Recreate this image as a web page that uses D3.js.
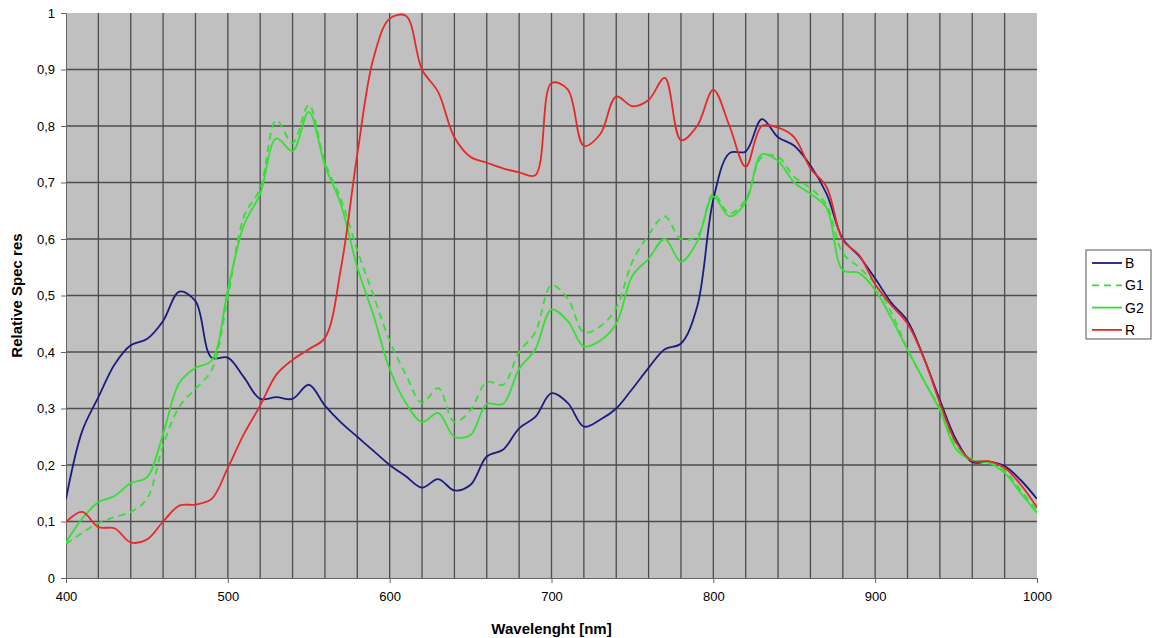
<!DOCTYPE html>
<html>
<head>
<meta charset="utf-8">
<script src="https://cdn.jsdelivr.net/npm/d3@7"></script>
<style>
  body { margin: 0; background: #fff; }
  text { font-family: "Liberation Sans", Arial, sans-serif; }
  .tick text { font-size: 13px; fill: #000; }
  .axisLabel { font-size: 15px; font-weight: bold; }
</style>
</head>
<body>
<div id="here"></div>
<script>
// spectral response, one value per 10 nm
const wavelengths = d3.range(400, 1001, 10);

const seriesB = [0.14, 0.26, 0.32, 0.378, 0.412, 0.423, 0.455, 0.507, 0.49, 0.39,
  0.39, 0.355, 0.317, 0.32, 0.317, 0.342, 0.305, 0.275, 0.25, 0.225,
  0.2, 0.18, 0.16, 0.175, 0.155, 0.165, 0.215, 0.227, 0.265, 0.285,
  0.327, 0.31, 0.268, 0.28, 0.3, 0.335, 0.372, 0.405, 0.415, 0.48,
  0.67, 0.752, 0.755, 0.812, 0.78, 0.765, 0.73, 0.68, 0.6, 0.57,
  0.53, 0.487, 0.455, 0.39, 0.315, 0.245, 0.205, 0.206, 0.198, 0.173, 0.14];

const seriesG1 = [0.06, 0.08, 0.097, 0.108, 0.117, 0.14, 0.235, 0.303, 0.335, 0.368,
  0.497, 0.64, 0.69, 0.81, 0.77, 0.837, 0.735, 0.67, 0.58, 0.5,
  0.42, 0.36, 0.31, 0.336, 0.276, 0.297, 0.347, 0.342, 0.4, 0.435,
  0.518, 0.495, 0.435, 0.445, 0.478, 0.56, 0.607, 0.64, 0.6, 0.605,
  0.68, 0.645, 0.67, 0.745, 0.745, 0.71, 0.69, 0.66, 0.575, 0.55,
  0.52, 0.47, 0.405, 0.35, 0.3, 0.235, 0.21, 0.205, 0.19, 0.155, 0.12];

const seriesG2 = [0.063, 0.105, 0.134, 0.145, 0.168, 0.178, 0.255, 0.345, 0.372, 0.385,
  0.51, 0.625, 0.68, 0.778, 0.756, 0.825, 0.73, 0.66, 0.55, 0.465,
  0.37, 0.31, 0.276, 0.292, 0.25, 0.253, 0.308, 0.308, 0.37, 0.405,
  0.475, 0.455, 0.41, 0.42, 0.45, 0.535, 0.565, 0.6, 0.56, 0.595,
  0.675, 0.64, 0.665, 0.75, 0.738, 0.7, 0.68, 0.655, 0.545, 0.54,
  0.51, 0.46, 0.404, 0.35, 0.297, 0.228, 0.208, 0.204, 0.186, 0.15, 0.115];

const seriesR = [0.099, 0.117, 0.09, 0.088, 0.063, 0.068, 0.1, 0.128, 0.13, 0.14,
  0.195, 0.255, 0.305, 0.36, 0.386, 0.405, 0.425, 0.55, 0.75, 0.92,
  0.99, 0.995, 0.9, 0.86, 0.78, 0.745, 0.735, 0.725, 0.718, 0.713,
  0.876, 0.865, 0.765, 0.785, 0.852, 0.835, 0.846, 0.885, 0.775, 0.8,
  0.864, 0.8, 0.728, 0.8, 0.797, 0.78, 0.725, 0.692, 0.598, 0.572,
  0.52, 0.483, 0.45, 0.39, 0.31, 0.24, 0.207, 0.207, 0.195, 0.165, 0.125];

const seriesNames = ["B", "G1", "G2", "R"];
const seriesValues = [seriesB, seriesG1, seriesG2, seriesR];
const seriesColors = ["#1c1c80", "#33e033", "#33e033", "#e62828"];
const seriesDash = [null, "7,5", null, null];

const xTicks = [400, 500, 600, 700, 800, 900, 1000];
const yTicks = [0, 0.1, 0.2, 0.3, 0.4, 0.5, 0.6, 0.7, 0.8, 0.9, 1];

const width = 1156;
const height = 638;
const margin = { top: 13, right: 119, bottom: 60, left: 66 };

const svg = d3.select("#here")
  .append("svg")
  .attr("width", width)
  .attr("height", height);

const xScale = d3.scaleLinear()
  .domain([400, 1000])
  .range([margin.left, width - margin.right]);

const yScale = d3.scaleLinear()
  .domain([0, 1])
  .range([height - margin.bottom, margin.top]);

// plot area
svg.append("rect")
  .attr("x", xScale(400))
  .attr("y", yScale(1))
  .attr("width", xScale(1000) - xScale(400))
  .attr("height", yScale(0) - yScale(1))
  .attr("fill", "#c0c0c0");

// grid
svg.append("g")
  .selectAll("line")
  .data(d3.range(420, 1000, 20))
  .enter()
  .append("line")
  .attr("x1", d => xScale(d))
  .attr("x2", d => xScale(d))
  .attr("y1", yScale(0))
  .attr("y2", yScale(1))
  .attr("stroke", "#4d4d4d")
  .attr("stroke-width", 1.3);

svg.append("g")
  .selectAll("line")
  .data(d3.range(1, 10).map(d => d / 10))
  .enter()
  .append("line")
  .attr("x1", xScale(400))
  .attr("x2", xScale(1000))
  .attr("y1", d => yScale(d))
  .attr("y2", d => yScale(d))
  .attr("stroke", "#4d4d4d")
  .attr("stroke-width", 1.3);

// axes
const fmt = d => String(d).replace(".", ",");

const xAxis = svg.append("g")
  .attr("transform", `translate(0, ${yScale(0)})`)
  .call(d3.axisBottom(xScale).tickValues(xTicks).tickFormat(d => String(d)).tickSize(5).tickPadding(9));

const yAxis = svg.append("g")
  .attr("transform", `translate(${xScale(400)}, 0)`)
  .call(d3.axisLeft(yScale).tickValues(yTicks).tickFormat(fmt).tickSize(5).tickPadding(6));

svg.selectAll(".domain, .tick line").attr("stroke", "#666");

// lines
svg.append("clipPath")
  .attr("id", "plotClip")
  .append("rect")
  .attr("x", xScale(400))
  .attr("y", yScale(1))
  .attr("width", xScale(1000) - xScale(400))
  .attr("height", yScale(0) - yScale(1));

const line = d3.line()
  .x((d, i) => xScale(wavelengths[i]))
  .y(d => yScale(d))
  .curve(d3.curveCatmullRom.alpha(0.5));

svg.append("g")
  .attr("clip-path", "url(#plotClip)")
  .selectAll("path")
  .data(seriesValues)
  .enter()
  .append("path")
  .attr("d", d => line(d))
  .attr("fill", "none")
  .attr("stroke", (d, i) => seriesColors[i])
  .attr("stroke-width", 1.8)
  .attr("stroke-dasharray", (d, i) => seriesDash[i]);

// axis labels
svg.append("text")
  .attr("class", "axisLabel")
  .attr("x", (xScale(400) + xScale(1000)) / 2)
  .attr("y", 634)
  .attr("text-anchor", "middle")
  .text("Wavelenght [nm]");

svg.append("text")
  .attr("class", "axisLabel")
  .attr("transform", `translate(22, ${(yScale(0) + yScale(1)) / 2}) rotate(-90)`)
  .attr("text-anchor", "middle")
  .text("Relative Spec res");

// legend
const legend = svg.append("g").attr("transform", "translate(1086, 250)");

legend.append("rect")
  .attr("width", 65)
  .attr("height", 89)
  .attr("fill", "#fff")
  .attr("stroke", "#555")
  .attr("stroke-width", 1);

const items = legend.selectAll("g.item")
  .data(seriesNames)
  .enter()
  .append("g")
  .attr("class", "item")
  .attr("transform", (d, i) => `translate(0, ${13 + i * 22.3})`);

items.append("line")
  .attr("x1", 6)
  .attr("x2", 36)
  .attr("stroke", (d, i) => seriesColors[i])
  .attr("stroke-width", 1.8)
  .attr("stroke-dasharray", (d, i) => seriesDash[i]);

items.append("text")
  .attr("x", 39)
  .attr("y", 5)
  .attr("font-size", 14)
  .text(d => d);
</script>
</body>
</html>
